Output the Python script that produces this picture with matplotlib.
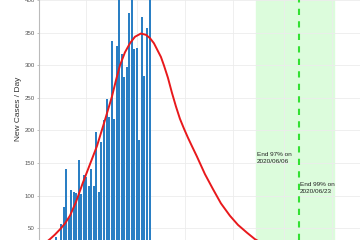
import matplotlib
matplotlib.use("Agg")
import matplotlib.pyplot as plt
import numpy as np

plt.rcParams['font.family'] = ['Liberation Sans', 'DejaVu Sans']

# --- Data ---
start_date = np.datetime64("2020-03-19")
new_cases = [37, 15, 56, 82, 141, 65, 108, 105, 104, 154, 103, 131, 128, 115,
             141, 114, 197, 106, 182, 216, 248, 220, 337, 218, 330, 420, 317,
             282, 298, 380, 410, 325, 327, 186, 375, 283, 357, 415]

# fitted curve, (days after start, cases/day)
curve_days = [-3.95, -2.37, -0.40, 1.58, 3.56, 5.53, 7.91, 10.67, 13.44, 16.21,
              19.37, 22.13, 23.72, 25.30, 27.27, 29.25, 31.23, 33.60, 35.57,
              37.15, 38.74, 39.92, 41.50, 42.69, 44.27, 45.85, 47.43, 49.01,
              50.59, 52.17, 53.75, 55.73, 58.89, 62.06, 65.22, 68.77, 71.94,
              75.49, 78.66, 82.61]
curve_vals = [28, 33, 40, 48, 57, 69, 90, 120, 148, 176,
              216, 252, 277, 300, 320, 334, 344, 349, 347,
              342, 334, 325, 313, 300, 281, 258, 237, 218,
              203, 189, 176, 160, 133, 110, 88, 69, 55,
              43, 33, 24]

end97 = np.datetime64("2020-06-06")
end99 = np.datetime64("2020-06-23")
band_end = np.datetime64("2020-07-07")
grid_dates = ["2020-03-31", "2020-04-20", "2020-05-09", "2020-05-28",
              "2020-06-17", "2020-07-06"]
y_ticks = [50, 100, 150, 200, 250, 300, 350, 400]

# --- Convert to day numbers ---
def day(d):
    return (np.datetime64(d) - start_date).astype(int)

x_bars = np.arange(len(new_cases))

# --- Plot ---
fig = plt.figure(figsize=(3.6, 2.4), dpi=100)
ax = fig.add_axes([39 / 360, 0, 1 - 39 / 360, 1])

ax.axvspan(day(end97), day(band_end), color="#dcfcdc", zorder=0)
ax.bar(x_bars, new_cases, width=0.8, color="#2a7fc4", zorder=2)
ax.plot(curve_days, curve_vals, color="#e8191c", lw=1.4, zorder=3)
ax.axvline(day(end99), color="#33e033", lw=1.5, ls=(0, (3, 3)), zorder=3)

ax.text(day(end97) + 0.3, 157.7, "End 97% on\n2020/06/06", fontsize=4.6,
        color="#222222", va="center", ha="left", linespacing=1.5, zorder=4)
ax.text(day(end99) + 0.3, 112.3, "End 99% on\n2020/06/23", fontsize=4.6,
        color="#222222", va="center", ha="left", linespacing=1.5, zorder=4)

ax.set_xlim(-6.7, 120.2)
ax.set_ylim(31.7, 400.5)
ax.set_xticks([day(d) for d in grid_dates])
ax.set_yticks(y_ticks)
ax.tick_params(labelbottom=False, bottom=False, length=1.5, width=0.5,
               colors="#aaaaaa", labelcolor="#555555", labelsize=4.4, pad=1.5)
ax.grid(True, color="#ececec", lw=0.6, zorder=0)
ax.set_axisbelow(True)
for s in ["top", "right", "bottom"]:
    ax.spines[s].set_visible(False)
ax.spines["left"].set_color("#bbbbbb")
ax.spines["left"].set_linewidth(0.8)

ax.set_ylabel("New Cases / Day", fontsize=6.0, color="#333333")
ax.yaxis.set_label_coords(-0.052, 0.546)

fig.savefig("out.png", dpi=100)
